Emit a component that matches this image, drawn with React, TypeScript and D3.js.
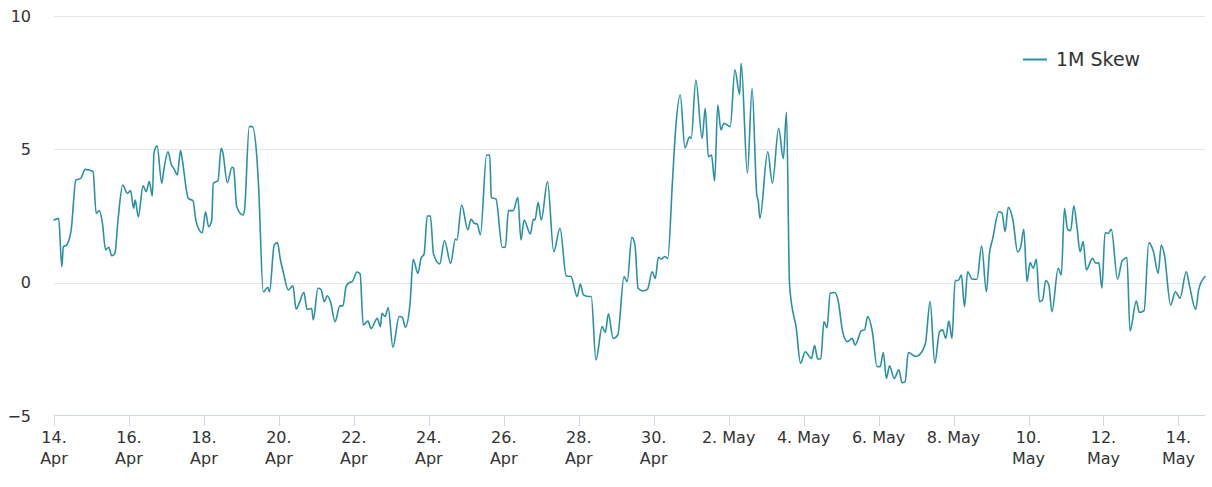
import React from "react";
import * as d3 from "d3";

// ---- data (hours since 14 Apr 00:00 UTC, 1M skew values) ----
const START = Date.UTC(2023, 3, 14);

const hours = [
  0, 3, 5, 6, 8, 11, 14, 17, 20, 22,
  25, 27, 29, 31, 33, 35, 37, 39, 41, 44,
  47, 49, 51, 52, 54, 57, 59, 61, 63, 64,
  66, 69, 70, 73, 75, 77, 79, 81, 82, 86,
  89, 91, 95, 97, 99, 101, 102, 105, 107, 108,
  111, 114, 115, 117, 121, 122, 125, 127, 130, 131,
  134, 137, 138, 141, 143, 145, 147, 150, 153, 155,
  157, 160, 162, 165, 166, 169, 171, 173, 175, 177,
  180, 183, 185, 187, 189, 191, 194, 196, 198, 201,
  203, 207, 209, 210, 212, 214, 217, 221, 223, 225,
  228, 230, 233, 235, 237, 239, 241, 243, 247, 250,
  254, 257, 258, 261, 265, 267, 269, 271, 273, 277,
  279, 280, 283, 287, 289, 291, 294, 297, 299, 301,
  305, 307, 308, 310, 312, 316, 320, 324, 328, 331,
  335, 337, 339, 342, 344, 347, 351, 353, 355, 358,
  361, 365, 367, 370, 372, 374, 377, 380, 383, 385,
  387, 389, 391, 393, 396, 398, 401, 404, 407, 408,
  411, 415, 417, 419, 421, 423, 425, 427, 429, 433,
  436, 439, 440, 444, 447, 450, 451, 452, 457, 460,
  464, 467, 469, 471, 474, 475, 478, 481, 485, 487,
  489, 491, 493, 495, 497, 500, 502, 505, 508, 511,
  513, 517, 519, 521, 524, 527, 529, 531, 533, 535,
  538, 541, 543, 545, 547, 552, 554, 558, 561, 564,
  567, 569, 571, 573, 575, 577, 579, 581, 583, 585,
  588, 591, 594, 597, 599, 601, 605, 607, 609, 611,
  614, 617, 619, 621, 623, 625, 627, 629, 631, 633,
  635, 637, 639, 643, 645, 647, 649, 651, 653, 655,
  657, 659, 661, 665, 667, 669, 671, 673, 675, 677,
  681, 684, 687, 689, 693, 695, 698, 701, 704, 707,
  709, 711, 715, 718, 721, 725, 727, 731, 733, 737,
];

const skew = [
  2.35, 2.41, 0.6, 1.35, 1.41, 1.98, 3.85, 3.91, 4.25, 4.23,
  4.16, 2.6, 2.7, 2.23, 1.23, 1.33, 1.01, 1.1, 2.35, 3.66,
  3.35, 3.45, 2.79, 3.1, 2.47, 3.63, 3.41, 3.79, 3.25, 4.85,
  5.13, 3.73, 4.1, 4.91, 4.45, 4.25, 4.04, 4.95, 4.66, 3.16,
  3.07, 2.29, 1.87, 2.66, 2.1, 2.35, 3.73, 3.82, 5.04, 4.91,
  3.75, 4.33, 4.29, 2.85, 2.54, 2.73, 5.85, 5.85, 4.6, 3.6,
  -0.34, -0.17, -0.34, 1.41, 1.5, 0.85, 0.35, -0.27, -0.12, -0.99,
  -0.77, -0.36, -1.0, -0.97, -1.4, -0.21, -0.25, -0.71, -0.49, -0.71,
  -1.46, -0.87, -0.87, -0.15, 0.0, 0.04, 0.4, 0.33, -1.59, -1.44,
  -1.72, -1.34, -1.65, -1.15, -1.27, -0.94, -2.42, -1.27, -1.3, -1.67,
  -0.77, 0.88, 0.35, 0.91, 1.08, 2.5, 2.5, 1.08, 0.7, 1.58,
  0.73, 1.64, 1.6, 2.91, 1.98, 2.38, 2.23, 2.2, 1.79, 4.79,
  4.79, 3.2, 3.13, 1.33, 1.33, 2.7, 2.7, 3.19, 1.6, 2.35,
  1.83, 2.38, 2.35, 3.01, 2.35, 3.79, 1.16, 2.04, 0.25, 0.23,
  -0.52, -0.05, -0.46, -0.52, -0.52, -2.9, -1.65, -1.87, -1.17, -2.09,
  -1.96, 0.23, 0.04, 1.7, 1.41, -0.21, -0.31, -0.25, 0.41, 0.16,
  0.95, 0.88, 0.98, 0.91, 3.79, 5.73, 7.04, 5.06, 5.47, 5.41,
  7.6, 5.41, 6.54, 4.72, 4.79, 3.81, 6.66, 5.73, 5.98, 5.85,
  7.98, 7.06, 8.23, 4.1, 7.29, 3.29, 3.04, 2.41, 4.91, 3.73,
  5.79, 4.66, 6.39, -0.09, -1.34, -1.59, -3.02, -2.59, -2.84, -2.36,
  -2.86, -2.86, -1.46, -1.69, -0.4, -0.37, -0.65, -1.84, -2.21, -2.09,
  -2.34, -1.8, -1.77, -1.27, -1.84, -3.15, -3.15, -2.62, -3.59, -3.12,
  -3.59, -3.27, -3.75, -3.71, -2.62, -2.77, -2.71, -2.27, -0.71, -3.02,
  -1.84, -1.77, -2.09, -1.44, -2.09, 0.08, 0.08, 0.29, -0.9, 0.41,
  0.13, 0.13, 1.38, -0.34, 1.1, 1.63, 2.66, 2.62, 1.91, 2.83,
  2.35, 1.16, 1.35, 2.0, 0.04, 0.75, 0.54, 0.88, -0.71, -0.65,
  0.08, -0.09, -1.09, 0.54, 0.29, 2.79, 2.0, 1.95, 2.88, 2.1,
  1.16, 1.54, 0.48, 0.91, 0.73, 0.75, -0.21, 1.87, 1.85, 2.0,
  0.13, 0.82, 0.94, -1.81, -0.69, -1.12, -1.05, 1.5, 1.16, 0.35,
  1.41, 1.04, -0.84, -0.34, -0.58, 0.41, -0.09, -1.0, -0.25, 0.23,
];

const yTicks = [-5, 0, 5, 10];
const xTickDates = [
  "2023-04-14", "2023-04-16", "2023-04-18", "2023-04-20", "2023-04-22",
  "2023-04-24", "2023-04-26", "2023-04-28", "2023-04-30", "2023-05-02",
  "2023-05-04", "2023-05-06", "2023-05-08", "2023-05-10", "2023-05-12",
  "2023-05-14",
];
const seriesName = "1M Skew";

// ---- layout ----
const W = 1212;
const H = 487;
const LEFT = 54;
const RIGHT = 1205;
const TOP = 16;
const BOTTOM = 416;
const LINE_COLOR = "#2a91a5";
const FONT = "'DejaVu Sans', Verdana, sans-serif";

export default function App() {
  const points = hours.map((h, i) => ({
    t: new Date(START + h * 3600 * 1000),
    v: skew[i],
  }));

  const x = d3
    .scaleUtc()
    .domain([points[0].t, points[points.length - 1].t])
    .range([LEFT, RIGHT]);
  const y = d3.scaleLinear().domain([-5, 10]).range([BOTTOM, TOP]);

  const line = d3
    .line<{ t: Date; v: number }>()
    .x((d) => x(d.t))
    .y((d) => y(d.v))
    .curve(d3.curveMonotoneX);

  const fmtDay = d3.utcFormat("%-d.");
  const fmtMon = d3.utcFormat("%b");

  const ticks = xTickDates.map((s) => {
    const d = new Date(s + "T00:00:00Z");
    const day = d.getUTCDate();
    const lines = day >= 10 ? [fmtDay(d), fmtMon(d)] : [fmtDay(d) + " " + fmtMon(d)];
    return { d, lines };
  });

  return (
    <svg
      width={W}
      height={H}
      style={{ position: "absolute", left: 0, top: 0, display: "block", background: "#fff" }}
      fontFamily={FONT}
    >
      {/* grid */}
      {yTicks
        .filter((t) => t !== -5)
        .map((t) => (
          <line
            key={"g" + t}
            x1={LEFT}
            x2={RIGHT}
            y1={Math.round(y(t)) + 0.5}
            y2={Math.round(y(t)) + 0.5}
            stroke="#e6e6e6"
            strokeWidth={1}
          />
        ))}
      {/* y labels */}
      {yTicks.map((t) => (
        <text
          key={"yl" + t}
          x={31}
          y={y(t) + 5.5}
          textAnchor="end"
          fontSize={16}
          fill="#333333"
        >
          {t < 0 ? "\u2212" + Math.abs(t) : String(t)}
        </text>
      ))}
      {/* x axis */}
      <line
        x1={LEFT}
        x2={RIGHT}
        y1={Math.round(y(-5)) - 0.5}
        y2={Math.round(y(-5)) - 0.5}
        stroke="#ccd6eb"
        strokeWidth={1}
      />
      {ticks.map(({ d, lines }, i) => {
        const tx = Math.round(x(d)) + 0.5;
        return (
          <g key={"xt" + i}>
            <line x1={tx} x2={tx} y1={415} y2={426} stroke="#ccd6eb" strokeWidth={1} />
            {lines.map((l, j) => (
              <text
                key={j}
                x={x(d)}
                y={443 + j * 20.5}
                textAnchor="middle"
                fontSize={16}
                fill="#333333"
              >
                {l}
              </text>
            ))}
          </g>
        );
      })}
      {/* series */}
      <path
        d={line(points) || ""}
        fill="none"
        stroke={LINE_COLOR}
        strokeWidth={1.6}
        strokeLinejoin="round"
        strokeLinecap="round"
      />
      {/* legend */}
      <line x1={1023} x2={1047} y1={59.5} y2={59.5} stroke={LINE_COLOR} strokeWidth={2} />
      <text x={1056} y={66} fontSize={19} fill="#333333">
        {seriesName}
      </text>
    </svg>
  );
}
